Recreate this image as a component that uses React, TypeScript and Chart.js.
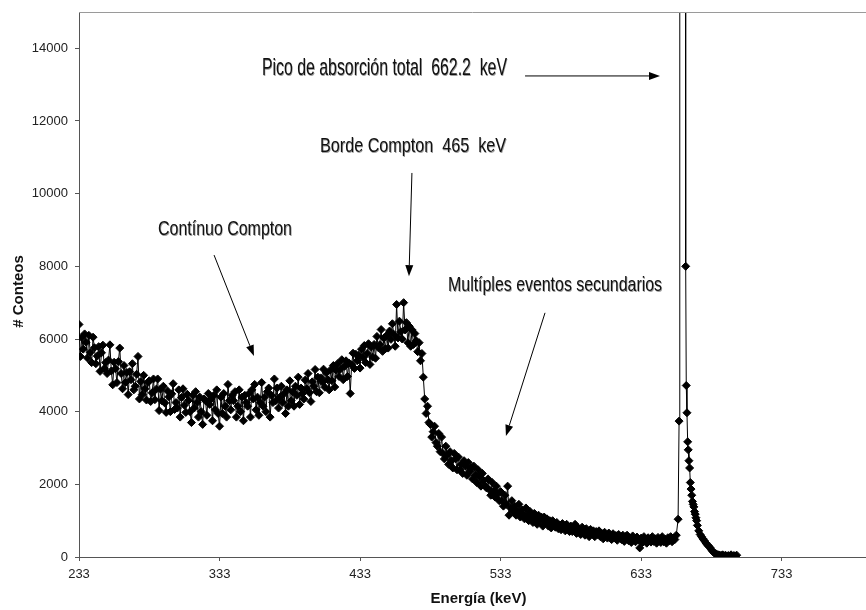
import React, { useEffect, useRef } from "react";
import { Chart, registerables } from "chart.js";

Chart.register(...registerables);

// ---- data ----
const continuumStartKeV = 233;
const continuumStepKeV = 1;
const continuumCounts = [
  6400, 5520, 6040, 5720, 6140, 5910, 5480, 6100, 5630, 5350,
  6050, 5760, 5320, 5530, 5790, 5110, 5620, 5830, 5190, 5350,
  5050, 5420, 5840, 5120, 4740, 5360, 5180, 4800, 5380, 5750,
  5050, 4630, 5270, 4800, 5080, 4470, 5100, 4880, 5320, 4600,
  4700, 5030, 5520, 4350, 4830, 4470, 5000, 4630, 4320, 4800,
  4850, 4280, 4520, 4900, 4330, 4620, 4900, 4030, 4620, 4300,
  4700, 4240, 3980, 4570, 4410, 4000, 4490, 4770, 4060, 4250,
  4100, 4600, 3850, 4390, 4630, 4180, 3980, 4480, 4310, 4000,
  3700, 4450, 4100, 4550, 4250, 3850, 4400, 4000, 3650, 4350,
  4300, 3900, 4500, 4200, 4350, 3750, 4450, 4050, 4600, 3950,
  3600, 4400, 3950, 4500, 4150, 3850, 4750, 4300, 4050, 4450,
  4300, 4550, 3850, 4150, 4600, 4000, 4400, 3750, 4450, 4250,
  4150, 4500, 3850, 4600, 4350, 4750, 4050, 4400, 3900, 4250,
  4800, 4150, 4400, 4000, 4550, 4650, 3850, 4450, 4250, 4900,
  4300, 4650, 4100, 4400, 4700, 4250, 4500, 3950, 4600, 4150,
  4850, 4300, 4550, 4150, 4700, 4450, 4950, 4200, 4650, 4500,
  4350, 4870, 4630, 5050, 4520, 4280, 4820, 4700, 5160, 4550,
  4950, 4520, 4930, 4820, 5170, 4670, 5070, 4880, 4600, 5150,
  4850, 5270, 4680, 5140, 5320, 4970, 5170, 5430, 4880, 5250,
  5400, 4970, 5340, 4500, 5290, 5610, 5190, 5580, 5400, 5550,
  5200, 5720, 5490, 5820, 5350, 5600, 5870, 5300, 5780, 5500,
  5850, 5470, 6070, 5760, 5840, 6260, 5660, 6030, 5730, 6100,
  5750, 6220, 5990, 6420, 6130, 5800, 6950, 6030, 6490, 6200,
  6000, 7000, 6250, 6450, 5900, 6350, 5800, 6250, 5850, 6150,
  5950, 5650, 5900, 5400, 5600, 4950, 4350, 3950, 4150, 3700,
  3650, 3300, 3450, 3600, 3150, 3050, 3400, 2900, 3300, 2850,
  2700, 3050, 2800, 2550, 2900, 2650, 2450, 2850, 2700, 2400,
  2750, 2400, 2550, 2300, 2650, 2500, 2250, 2600, 2350, 2450,
  2150, 2500, 2250, 2050, 2400, 2200, 1950, 2300, 2100, 1950,
  1900, 2150, 1850, 1700, 2050, 1800, 1650, 1950, 1750, 1550,
  1800, 1550, 1400, 1700, 1450, 1950, 1150, 1350, 1550, 1250,
  1400, 1150, 1250, 1450, 1100, 1300, 1200, 1050, 1350, 1150,
  1000, 1250, 1100, 950, 1200, 1050, 900, 1150, 1000, 1100,
  850, 1100, 950, 1050, 850, 1000, 800, 1000, 900, 820,
  950, 780, 880, 750, 920, 820, 720, 900, 800, 700,
  850, 700, 780, 900, 650, 800, 720, 620, 820, 700,
  600, 780, 680, 560, 760, 650, 720, 560, 700, 620,
  720, 560, 650, 500, 680, 600, 520, 660, 570, 480,
  640, 520, 590, 460, 620, 540, 480, 600, 430, 560,
  600, 450, 520, 400, 580, 480, 420, 550, 470, 250,
  520, 400, 560, 450, 380, 530, 470, 410, 560, 430,
  500, 380, 540, 460, 400, 560, 420, 490, 380, 530,
  450, 560, 420, 520, 480, 600,
];

const peakEnergiesKeV = [
  659.3, 660.0, 660.5, 661.0, 661.5, 662.0, 662.5, 663.0, 663.5, 664.0, 664.3, 664.7,
  665.1, 665.6, 666.1, 666.5, 667.0, 667.5, 668.0, 668.5, 669.0, 669.5, 670.0, 670.5,
  671.0, 671.5, 672.0, 672.5, 673.0,
  674, 675, 676, 677, 678, 679, 680, 681, 682, 683, 684, 685, 686, 687,
  688, 689, 690, 691, 692, 693, 694, 695, 696, 697, 698, 699, 700, 701,
];
const peakCounts = [
  1040, 3740, 38000, 52000, 60000, 62000, 58000, 49000, 38000, 30000, 27000, 8000,
  4720, 3970, 3170, 2950, 2650, 2450, 2050, 1870, 1700, 1530, 1450, 1380,
  1250, 1180, 1080, 1000, 870,
  720, 620, 560, 500, 450, 390, 340, 300, 260, 200, 150, 110, 90, 70,
  60, 50, 40, 60, 30, 50, 20, 40, 30, 60, 20, 40, 30, 50,
];

const xTickValues = [233, 333, 433, 533, 633, 733];
const yTickValues = [0, 2000, 4000, 6000, 8000, 10000, 12000, 14000];
const xTitle = "Energía (keV)";
const yTitle = "# Conteos";

const annotationTexts = [
  "Pico de absorción total  662.2  keV",
  "Borde Compton  465  keV",
  "Contínuo Compton",
  "Multíples eventos secundarios",
];
// anchor of each label (keV, counts) and arrow start/end (keV, counts)
const annotationAnchors = [
  [363.2, 13270],
  [404.5, 11150],
  [289.2, 8860],
  [495.6, 7320],
];
const arrowStarts = [
  [550.4, 13240],
  [469.9, 10570],
  [329.1, 8310],
  [564.6, 6720],
];
const arrowEnds = [
  [646.4, 13240],
  [467.8, 7730],
  [357.5, 5530],
  [536.8, 3330],
];

// ---- drawing helpers ----
const tickFont = { family: '"Liberation Sans", Arial, sans-serif', size: 13 };
const annotationFontSizes = [24, 21, 21, 21];
const annotationWidths = [245, 186, 134, 214];

function drawArrow(ctx: CanvasRenderingContext2D, x1: number, y1: number, x2: number, y2: number) {
  const ang = Math.atan2(y2 - y1, x2 - x1);
  const len = 11;
  const half = 4;
  const bx = x2 - Math.cos(ang) * len;
  const by = y2 - Math.sin(ang) * len;
  ctx.beginPath();
  ctx.moveTo(x1, y1);
  ctx.lineTo(bx, by);
  ctx.stroke();
  ctx.beginPath();
  ctx.moveTo(x2, y2);
  ctx.lineTo(bx + Math.sin(ang) * half, by - Math.cos(ang) * half);
  ctx.lineTo(bx - Math.sin(ang) * half, by + Math.cos(ang) * half);
  ctx.closePath();
  ctx.fill();
}

function zeroPadding(scale: any) {
  scale.paddingLeft = 0;
  scale.paddingRight = 0;
  scale.paddingTop = 0;
  scale.paddingBottom = 0;
}

const decorPlugin = {
  id: "decor",
  afterDraw(chart: any) {
    const { ctx, chartArea, scales } = chart;
    const xs = scales.x;
    const ys = scales.y;
    ctx.save();
    // top frame line
    ctx.strokeStyle = "#9a9a9a";
    ctx.lineWidth = 1;
    ctx.beginPath();
    ctx.moveTo(chartArea.left, chartArea.top + 0.5);
    ctx.lineTo(chartArea.right, chartArea.top + 0.5);
    ctx.stroke();

    // axis titles
    ctx.fillStyle = "#111";
    ctx.font = 'bold 15px "Liberation Sans", Arial, sans-serif';
    ctx.textAlign = "center";
    ctx.textBaseline = "alphabetic";
    ctx.fillText(xTitle, (chartArea.left + chartArea.right) / 2 + 6, chart.height - 7);
    ctx.save();
    ctx.translate(23, (chartArea.top + chartArea.bottom) / 2 + 7);
    ctx.rotate(-Math.PI / 2);
    ctx.fillText(yTitle, 0, 0);
    ctx.restore();

    // annotations
    ctx.textAlign = "left";
    annotationTexts.forEach((text, i) => {
      const px = xs.getPixelForValue(annotationAnchors[i][0]);
      const py = ys.getPixelForValue(annotationAnchors[i][1]);
      ctx.font = `${annotationFontSizes[i]}px "Liberation Sans Narrow", "Liberation Sans", Arial, sans-serif`;
      const w = ctx.measureText(text).width;
      ctx.save();
      ctx.translate(px, py);
      ctx.scale(annotationWidths[i] / w, 1);
      ctx.fillStyle = "#a0a0a0";
      ctx.fillText(text, 0.9, 0.9);
      ctx.fillStyle = "#111";
      ctx.fillText(text, 0, 0);
      ctx.restore();

      ctx.strokeStyle = "#000";
      ctx.fillStyle = "#000";
      ctx.lineWidth = 1;
      drawArrow(
        ctx,
        xs.getPixelForValue(arrowStarts[i][0]),
        ys.getPixelForValue(arrowStarts[i][1]),
        xs.getPixelForValue(arrowEnds[i][0]),
        ys.getPixelForValue(arrowEnds[i][1])
      );
    });
    ctx.restore();
  },
};

export default function App() {
  const canvasRef = useRef<HTMLCanvasElement | null>(null);

  useEffect(() => {
    const canvas = canvasRef.current;
    if (!canvas) return;
    const points = continuumCounts.map((c, i) => ({
      x: continuumStartKeV + i * continuumStepKeV,
      y: c,
    }));
    peakEnergiesKeV.forEach((e, i) => points.push({ x: e, y: peakCounts[i] }));

    const chart = new Chart(canvas, {
      type: "scatter",
      data: {
        datasets: [
          {
            data: points,
            showLine: true,
            borderColor: "#000",
            backgroundColor: "#000",
            borderWidth: 1,
            pointStyle: "rectRot",
            pointRadius: 4,
            pointBorderWidth: 1,
            pointBackgroundColor: "#000",
            pointBorderColor: "#000",
          },
        ],
      },
      options: {
        animation: false,
        responsive: false,
        devicePixelRatio: 1,
        layout: { autoPadding: false, padding: { top: 12, left: 0, right: 0, bottom: 0 } },
        plugins: { legend: { display: false }, tooltip: { enabled: false } },
        scales: {
          x: {
            type: "linear",
            min: 233,
            max: 793,
            afterBuildTicks: (scale: any) => {
              scale.ticks = xTickValues.map((v) => ({ value: v }));
            },
            afterFit: (scale: any) => {
              scale.height = 53;
              zeroPadding(scale);
            },
            ticks: {
              font: tickFont,
              color: "#222",
              padding: 6,
              maxRotation: 0,
              autoSkip: false,
              callback: (v: any) => String(v),
            },
            grid: {
              drawOnChartArea: false,
              drawTicks: true,
              tickLength: 4,
              color: "#555",
            },
            border: { color: "#555", width: 1 },
          },
          y: {
            type: "linear",
            min: 0,
            max: 15000,
            afterBuildTicks: (scale: any) => {
              scale.ticks = yTickValues.map((v) => ({ value: v }));
            },
            afterFit: (scale: any) => {
              scale.width = 79;
              zeroPadding(scale);
            },
            ticks: {
              font: tickFont,
              color: "#222",
              padding: 7,
              autoSkip: false,
              callback: (v: any) => String(v),
            },
            grid: {
              drawOnChartArea: false,
              drawTicks: true,
              tickLength: 4,
              color: "#555",
            },
            border: { color: "#555", width: 1 },
          },
        },
      },
      plugins: [decorPlugin],
    } as any);
    return () => chart.destroy();
  }, []);

  return (
    <div style={{ position: "fixed", left: 0, top: 0, width: 866, height: 610, background: "#fff" }}>
      <canvas ref={canvasRef} width={866} height={610} style={{ width: 866, height: 610, display: "block" }} />
    </div>
  );
}
